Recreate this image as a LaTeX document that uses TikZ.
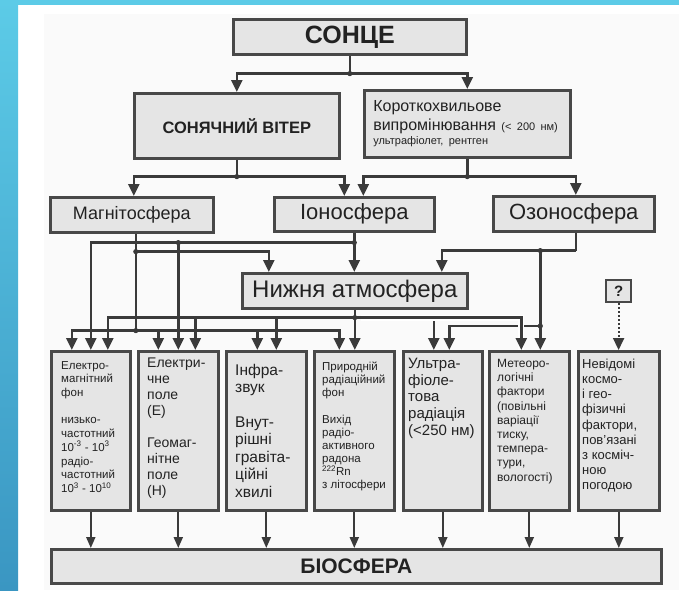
\documentclass[tikz,border=0pt]{standalone}
\usepackage{fontspec}
\setmainfont{Liberation Sans}
\usepackage{tikz}
\usetikzlibrary{arrows.meta}
\definecolor{c1}{HTML}{3A3A3A}
\definecolor{c2}{HTML}{484848}
\definecolor{c3}{HTML}{E5E5E5}
\definecolor{c4}{HTML}{5CCBE7}
\definecolor{c5}{HTML}{3A96C2}
\definecolor{c6}{HTML}{222222}
\definecolor{c7}{HTML}{FAFAFA}
\newcommand{\fsz}[2]{\fontsize{#1}{#2}\selectfont}

\begin{document}
\begin{tikzpicture}[x=1pt, y=-1pt,
    box/.style={draw=c2, line width=2.6pt, fill=c3, inner sep=0pt, anchor=north west, text=c6},
    txt/.style={anchor=north west, inner sep=0pt, align=left, text=c6},
    line/.style={draw=c1, line width=2.4pt},
    arr/.style={line, -{Triangle[width=11pt,length=12pt]}},
    arrs/.style={line, line width=2pt, -{Triangle[width=9pt,length=11pt]}}]
	\useasboundingbox (0,0) rectangle (679,590);
	\fill[white] (0,0) rectangle (679,590);
	\fill[c7] (44,14) rectangle (679,590);
	\shade[top color=c4, bottom color=c5] (0,0) rectangle (18,590);
	\fill[c4] (0,0) rectangle (679,5);

	\node[box, minimum width=233pt, minimum height=35pt, font=\bfseries\fsz{25}{30}] (sun) at (232,18) {СОНЦЕ};
	\node[box, minimum width=205pt, minimum height=65pt, font=\bfseries\fsz{16.5}{20}] (wind) at (133,92) {СОНЯЧНИЙ ВІТЕР};
	\node[box, minimum width=206pt, minimum height=67pt, text width=188pt, align=left, font=\fsz{16}{19}] (sw) at (363,89)
	    {Короткохвильове\\ випромінювання {\fsz{11}{13}(< 200 нм)}\\[-5pt] {\fsz{11}{13}ультрафіолет, рентген}};

	\node[box, minimum width=163pt, minimum height=35pt, font=\fsz{18}{22}] (mag) at (49,196) {Магнітосфера};
	\node[box, minimum width=160pt, minimum height=34pt, font=\fsz{22}{26}] (iono) at (273,196) {Іоносфера};
	\node[box, minimum width=161pt, minimum height=35pt, font=\fsz{22}{26}] (ozone) at (492,195) {Озоносфера};
	\node[box, minimum width=225pt, minimum height=35pt, font=\fsz{24}{28}] (atm) at (241,272) {Нижня атмосфера};
	\node[box, line width=2.2pt, minimum width=25pt, minimum height=22pt, font=\bfseries\fsz{15}{18}] (q) at (605,279) {?};

	% bottom row
	\node[box, minimum width=79pt, minimum height=159pt] (b1) at (50,350) {};
	\node[box, minimum width=80pt, minimum height=159pt] (b2) at (137,350) {};
	\node[box, minimum width=80pt, minimum height=159pt] (b3) at (225,350) {};
	\node[box, minimum width=80pt, minimum height=159pt] (b4) at (313,350) {};
	\node[box, minimum width=79pt, minimum height=159pt] (b5) at (402,350) {};
	\node[box, minimum width=80pt, minimum height=159pt] (b6) at (488,350) {};
	\node[box, minimum width=81pt, minimum height=159pt] (b7) at (577,350) {};
	\node[txt, font=\fsz{11.5}{13.7}] (t1) at (61,361)
	    {Електро-\\магнітний\\фон\\[13.7pt]низько-\\частотний\\10\textsuperscript{-3} - 10\textsuperscript{3}\\радіо-\\частотний\\10\textsuperscript{3} - 10\textsuperscript{10}};
	\node[txt, font=\fsz{14}{16}] (t2) at (147,358)
	    {Електри-\\чне\\поле\\(Е)\\[16pt]Геомаг-\\нітне\\поле\\(Н)};
	\node[txt, font=\fsz{15.5}{17.5}] (t3) at (235,364)
	    {Інфра-\\звук\\[17pt]Внут-\\рішні\\гравіта-\\ційні\\хвилі};
	\node[txt, font=\fsz{11.5}{13}] (t4) at (322,362)
	    {Природній\\радіаційний\\фон\\[14pt]Вихід\\радіо-\\активного\\радона\\\textsuperscript{222}Rn\\з літосфери};
	\node[txt, font=\fsz{15}{16.7}] (t5) at (408,358)
	    {Ультра-\\фіоле-\\това\\радіація\\(<250 нм)};
	\node[txt, font=\fsz{12}{14.2}] (t6) at (497,359)
	    {Метеоро-\\логічні\\фактори\\(повільні\\варіації\\тиску,\\темпера-\\тури,\\вологості)};
	\node[txt, font=\fsz{13}{15.1}] (t7) at (582,359)
	    {Невідомі\\космо-\\і гео-\\фізичні\\фактори,\\пов’язані\\з косміч-\\ною\\погодою};

	\node[box, minimum width=610pt, minimum height=34pt, font=\bfseries\fsz{21}{25}] (bio) at (50,548) {БІОСФЕРА};

	% sun, wind, short waves
	\draw[line] (sun.south) -- ++(0,18) coordinate (j1);
	\draw[arr] (j1) -| (wind.north);
	\draw[arr] (j1) -| (sw.north);
	\draw[line] (wind.south) -- ++(0,17) coordinate (j2);
	\draw[arr] (j2) -| ([xshift=2pt]mag.north);
	\draw[arr] (j2) -| ([xshift=-10pt]iono.north);
	\draw[line] (sw.south) -- ++(0,18) coordinate (j3);
	\draw[arr] (j3) -| ([xshift=9pt]iono.north);
	\draw[arr] (j3) -| ([xshift=2pt]ozone.north);

	% magnetosphere
	\draw[line] ([xshift=4pt]mag.south) -- ++(0,18) coordinate (jm1) -- ++(0,79) coordinate (jm2);
	\draw[arr] (jm1) -| ([xshift=-86pt]atm.north);
	\draw[arr] (jm2) -| ([xshift=-19pt]b1.north);
	\draw[arr] (jm2) -| ([xshift=-20pt]b2.north);
	\draw[arr] (jm2) -| ([xshift=-9pt]b3.north);
	\draw[arr] (jm2) -| ([xshift=-15pt]b4.north);

	% ionosphere
	\draw[line] (iono.south) -- ++(0,10) coordinate (ji);
	\draw[arr] (ji) -- (ji |- atm.north);
	\draw[arr] (ji) -| (b1.north);
	\draw[arr] (b2.north |- ji) coordinate (ji2) -- (b2.north);

	% ozone
	\coordinate (x6) at ([xshift=11pt]b6.north);
	\draw[line] ([xshift=2pt]ozone.south) -- ++(0,18) coordinate (jo1);
	\draw[arr] (jo1) -| ([xshift=87pt]atm.north);
	\draw[arr] (jo1) -| (x6);
	\draw[arr] ([yshift=24pt]x6) coordinate (jo3) -| ([xshift=6.5pt]b5.north);

	% lower atmosphere
	\draw[line] (atm.south) -- ++(0,8) coordinate (ja);
	\draw[arr] (ja) -- (ja |- b4.north);
	\draw[arr] (ja) -| ([xshift=17pt]b1.north);
	\draw[arr] (ja) -| ([xshift=17pt]b2.north);
	\draw[arr] (ja) -| ([xshift=10pt]b3.north);
	\draw[arr] (ja) -| ([xshift=-9pt]b5.north);
	\draw[arr, preaction={draw=white, line width=6pt, -, shorten <=6pt}] (ja) -| ([xshift=-8pt]b6.north);

	\draw[arr, line width=2pt, dash pattern=on 2pt off 2pt] (q.south) -- (q.south |- b7.north);

	% into biosphere
	\draw[arrs] (b1.south) -- (b1.south |- bio.north);
	\draw[arrs] (b2.south) -- (b2.south |- bio.north);
	\draw[arrs] (b3.south) -- (b3.south |- bio.north);
	\draw[arrs] (b4.south) -- (b4.south |- bio.north);
	\draw[arrs] (b5.south) -- (b5.south |- bio.north);
	\draw[arrs] (b6.south) -- (b6.south |- bio.north);
	\draw[arrs] (b7.south) -- (b7.south |- bio.north);

	\fill[c1] (j1) circle (2.6pt);
	\fill[c1] (j2) circle (2.6pt);
	\fill[c1] (j3) circle (2.6pt);
	\fill[c1] (jm1) circle (2.6pt);
	\fill[c1] (jm2) circle (2.6pt);
	\fill[c1] (ji) circle (2.6pt);
	\fill[c1] (ji2) circle (2.6pt);
	\fill[c1] (ja) circle (2.6pt);
	\fill[c1] (x6 |- jo1) circle (2.6pt);
	\fill[c1] (jo3) circle (2.6pt);
\end{tikzpicture}
\end{document}
